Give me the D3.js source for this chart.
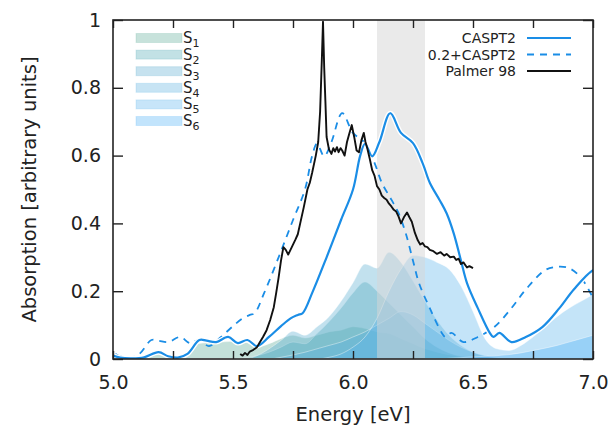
<!DOCTYPE html>
<html>
<head>
<meta charset="utf-8">
<script src="https://cdn.jsdelivr.net/npm/d3@7"></script>
<style>
  html, body { margin: 0; padding: 0; background: #fff; }
  svg { display: block; font-family: "DejaVu Sans", sans-serif; }
</style>
</head>
<body>
<svg id="chart" width="611" height="433"></svg>
<script>
// ---- data ----
// CASPT2 spectrum (energy in eV, absorption in arbitrary units)
const casptEnergy = [5.00,5.03,5.08,5.13,5.19,5.23,5.27,5.31,5.36,5.39,5.43,5.48,5.52,5.56,5.60,5.65,5.70,5.74,5.77,5.79,5.83,5.89,5.95,6.00,6.03,6.05,6.08,6.11,6.155,6.20,6.25,6.29,6.32,6.36,6.39,6.42,6.45,6.475,6.52,6.57,6.585,6.61,6.66,6.72,6.79,6.86,6.92,7.00,7.05,7.10,7.15,7.20];
const casptValue  = [0.010,0.004,0.002,0.005,0.020,0.008,0.004,0.015,0.056,0.054,0.050,0.065,0.047,0.056,0.038,0.065,0.097,0.120,0.130,0.135,0.195,0.300,0.410,0.500,0.600,0.635,0.598,0.640,0.725,0.667,0.637,0.578,0.520,0.470,0.430,0.370,0.290,0.224,0.150,0.077,0.065,0.077,0.050,0.065,0.095,0.150,0.205,0.262,0.272,0.268,0.240,0.180];
// the dashed curve is the same CASPT2 spectrum moved down by this many eV
const shiftEv = 0.2;

// Palmer 1998 experimental spectrum
const palmerEnergy = [5.530,5.540,5.550,5.560,5.570,5.585,5.600,5.610,5.625,5.640,5.655,5.670,5.680,5.690,5.700,5.710,5.720,5.730,5.745,5.760,5.770,5.780,5.795,5.810,5.820,5.830,5.845,5.855,5.863,5.870,5.875,5.880,5.885,5.890,5.900,5.910,5.918,5.925,5.933,5.940,5.948,5.955,5.965,5.975,5.985,5.995,6.005,6.015,6.025,6.035,6.045,6.052,6.060,6.070,6.080,6.090,6.100,6.110,6.120,6.130,6.140,6.150,6.160,6.170,6.180,6.190,6.200,6.212,6.225,6.235,6.245,6.258,6.270,6.280,6.290,6.300,6.310,6.320,6.335,6.350,6.365,6.380,6.390,6.405,6.420,6.430,6.440,6.450,6.460,6.475,6.485,6.500];
const palmerValue  = [0.015,0.010,0.018,0.012,0.022,0.027,0.035,0.047,0.065,0.085,0.115,0.153,0.195,0.240,0.290,0.330,0.322,0.308,0.330,0.352,0.368,0.400,0.448,0.500,0.520,0.550,0.600,0.640,0.730,0.880,0.995,0.860,0.760,0.655,0.618,0.605,0.622,0.612,0.625,0.610,0.622,0.615,0.600,0.640,0.666,0.690,0.655,0.615,0.610,0.645,0.667,0.640,0.620,0.590,0.557,0.540,0.510,0.500,0.482,0.475,0.470,0.458,0.450,0.440,0.435,0.420,0.400,0.418,0.432,0.418,0.405,0.372,0.350,0.338,0.342,0.332,0.330,0.322,0.318,0.310,0.315,0.305,0.310,0.300,0.302,0.292,0.296,0.280,0.285,0.270,0.274,0.268];

// excited-state contributions S1..S6 on a common energy grid
const stateEnergy = [5.00,5.05,5.10,5.15,5.20,5.25,5.30,5.35,5.40,5.45,5.50,5.55,5.60,5.65,5.70,5.75,5.80,5.85,5.90,5.95,6.00,6.05,6.10,6.15,6.20,6.25,6.30,6.35,6.40,6.45,6.50,6.55,6.60,6.65,6.70,6.75,6.80,6.85,6.90,6.95,7.00];
const s1 = [0.008,0.002,0.000,0.006,0.018,0.006,0.012,0.045,0.048,0.050,0.052,0.050,0.035,0.045,0.060,0.070,0.062,0.070,0.080,0.085,0.095,0.090,0.080,0.075,0.060,0.045,0.030,0.020,0.012,0.006,0.003,0,0,0,0,0,0,0,0,0,0];
const s2 = [0,0,0,0,0,0,0,0,0,0,0,0.003,0.010,0.020,0.035,0.050,0.045,0.075,0.110,0.150,0.195,0.227,0.200,0.165,0.130,0.095,0.060,0.035,0.018,0.008,0.003,0,0,0,0,0,0,0,0,0,0];
const s3 = [0,0,0,0,0,0,0,0,0,0,0,0,0.010,0.030,0.055,0.082,0.070,0.095,0.125,0.170,0.225,0.280,0.268,0.315,0.285,0.230,0.170,0.115,0.070,0.040,0.020,0.008,0.002,0,0,0,0,0,0,0,0];
const s4 = [0,0,0,0,0,0,0,0,0,0,0,0,0,0,0.005,0.012,0.020,0.030,0.040,0.050,0.065,0.080,0.100,0.120,0.140,0.130,0.105,0.080,0.055,0.035,0.020,0.010,0.004,0,0,0,0,0,0,0,0];
const s5 = [0,0,0,0,0,0,0,0,0,0,0,0,0,0,0,0,0,0,0.005,0.015,0.035,0.065,0.120,0.200,0.265,0.305,0.300,0.285,0.265,0.215,0.140,0.060,0.030,0.025,0.040,0.065,0.095,0.125,0.150,0.170,0.190];
const s6 = [0,0,0,0,0,0,0,0,0,0,0,0,0,0,0,0,0,0,0,0,0,0,0,0,0,0,0,0,0.002,0.004,0.006,0.008,0.010,0.013,0.018,0.025,0.032,0.040,0.050,0.060,0.070];
const stateNames  = ["1","2","3","4","5","6"];
const stateValues = [s1, s2, s3, s4, s5, s6];
const stateColors = ["#5aa996","#4ca6b2","#57abcf","#5ab0df","#5bb4ec","#4cb0f7"];

// shaded energy window
const windowRange = [6.1, 6.3];

// axis ticks
const xTicks = [5.0,5.25,5.5,5.75,6.0,6.25,6.5,6.75,7.0];
const xLabels = [5.0,5.5,6.0,6.5,7.0];
const yTicks = [0,0.2,0.4,0.6,0.8,1];

const lineSeries = [
  {name: "CASPT2", dash: null},
  {name: "0.2+CASPT2", dash: "7,6"},
  {name: "Palmer 98", dash: null, black: true}
];

// ---- layout ----
const plot = {left: 113, top: 20, right: 593, bottom: 359};
const blue = "#1a8de6";
const svg = d3.select("#chart");

const x = d3.scaleLinear().domain([5, 7]).range([plot.left, plot.right]);
const y = d3.scaleLinear().domain([0, 1]).range([plot.bottom, plot.top]);

svg.append("defs").append("clipPath").attr("id", "plotClip")
  .append("rect")
  .attr("x", plot.left).attr("y", plot.top)
  .attr("width", plot.right - plot.left).attr("height", plot.bottom - plot.top);

const g = svg.append("g").attr("clip-path", "url(#plotClip)");

// state areas (overlapping, translucent)
const area = d3.area()
  .x(d => x(d[0])).y0(y(0)).y1(d => y(d[1]))
  .curve(d3.curveMonotoneX);
stateValues.forEach((vals, i) => {
  const pts = stateEnergy.map((e, k) => [e, vals[k]]);
  g.append("path")
    .datum(pts)
    .attr("d", area)
    .attr("fill", stateColors[i])
    .attr("fill-opacity", 0.36)
    .attr("stroke", "#ffffff")
    .attr("stroke-opacity", 0.5)
    .attr("stroke-width", 0.8);
});

// shaded window
g.append("rect")
  .attr("x", x(windowRange[0])).attr("y", plot.top)
  .attr("width", x(windowRange[1]) - x(windowRange[0]))
  .attr("height", plot.bottom - plot.top)
  .attr("fill", "#d6d6d6").attr("fill-opacity", 0.5);

const smooth = d3.line().x(d => x(d[0])).y(d => y(d[1])).curve(d3.curveCatmullRom.alpha(0.5));
const casptPts = casptEnergy.map((e, k) => [e, casptValue[k]]);
const shiftedPts = casptEnergy.map((e, k) => [e - shiftEv, casptValue[k]]);

// shifted CASPT2 (dashed)
g.append("path").datum(shiftedPts).attr("d", smooth)
  .attr("fill", "none").attr("stroke", blue).attr("stroke-width", 1.8)
  .attr("stroke-dasharray", "7,6");

// CASPT2 with a thin white casing
g.append("path").datum(casptPts).attr("d", smooth)
  .attr("fill", "none").attr("stroke", "#ffffff").attr("stroke-width", 5);
g.append("path").datum(casptPts).attr("d", smooth)
  .attr("fill", "none").attr("stroke", blue).attr("stroke-width", 2.2);

// experimental spectrum
const jag = d3.line().x(d => x(d[0])).y(d => y(d[1]));
g.append("path").datum(palmerEnergy.map((e, k) => [e, palmerValue[k]])).attr("d", jag)
  .attr("fill", "none").attr("stroke", "#111").attr("stroke-width", 1.9)
  .attr("stroke-linejoin", "round");

// ---- axes ----
const fmtX = d => xLabels.some(v => Math.abs(v - d) < 1e-9) ? d3.format(".1f")(d) : "";
const fmtY = d => (d === 0 || d === 1) ? String(d) : d3.format(".1f")(d);

function styleAxis(sel) {
  sel.select(".domain").remove();
  sel.selectAll(".tick line").attr("stroke", "#222").attr("stroke-width", 1.4);
  sel.selectAll(".tick text").attr("fill", "#222").style("font-size", "19px")
    .style("font-family", "'DejaVu Sans', sans-serif");
}

svg.append("g").attr("transform", `translate(0,${plot.bottom})`)
  .call(d3.axisBottom(x).tickValues(xTicks).tickSize(-8).tickPadding(17).tickFormat(fmtX))
  .call(styleAxis);
svg.append("g").attr("transform", `translate(0,${plot.top})`)
  .call(d3.axisTop(x).tickValues(xTicks).tickSize(-8).tickFormat(""))
  .call(styleAxis);
svg.append("g").attr("transform", `translate(${plot.left},0)`)
  .call(d3.axisLeft(y).tickValues(yTicks).tickSize(-10).tickPadding(12).tickFormat(fmtY))
  .call(styleAxis);
svg.append("g").attr("transform", `translate(${plot.right},0)`)
  .call(d3.axisRight(y).tickValues(yTicks).tickSize(-10).tickFormat(""))
  .call(styleAxis);

// frame
svg.append("rect")
  .attr("x", plot.left).attr("y", plot.top)
  .attr("width", plot.right - plot.left).attr("height", plot.bottom - plot.top)
  .attr("fill", "none").attr("stroke", "#222").attr("stroke-width", 1.6);

// axis titles
svg.append("text")
  .attr("x", (plot.left + plot.right) / 2).attr("y", 421)
  .attr("text-anchor", "middle").attr("fill", "#222")
  .style("font-size", "19.5px").text("Energy [eV]");
svg.append("text")
  .attr("transform", `translate(36,${(plot.top + plot.bottom) / 2}) rotate(-90)`)
  .attr("text-anchor", "middle").attr("fill", "#222")
  .style("font-size", "19.5px").text("Absorption [arbitrary units]");

// ---- legends ----
const stateLegend = svg.append("g");
stateNames.forEach((n, i) => {
  const cy = 38 + i * 16.6;
  stateLegend.append("rect")
    .attr("x", 136).attr("y", cy - 4.5).attr("width", 46).attr("height", 9)
    .attr("fill", stateColors[i]).attr("fill-opacity", 0.34)
    .attr("stroke", stateColors[i]).attr("stroke-opacity", 0.2);
  const t = stateLegend.append("text")
    .attr("x", 183).attr("y", cy + 5).attr("fill", "#222").style("font-size", "15px");
  t.append("tspan").text("S");
  t.append("tspan").attr("dy", 4).style("font-size", "11px").text(n);
});

const lineLegend = svg.append("g");
lineSeries.forEach((s, i) => {
  const cy = 38 + i * 16.5;
  lineLegend.append("text")
    .attr("x", 516).attr("y", cy + 5).attr("text-anchor", "end")
    .attr("fill", "#222").style("font-size", "14px").text(s.name);
  lineLegend.append("line")
    .attr("x1", 527).attr("x2", 571).attr("y1", cy).attr("y2", cy)
    .attr("stroke", s.black ? "#111" : blue)
    .attr("stroke-width", s.black ? 1.9 : (s.dash ? 1.8 : 2.2))
    .attr("stroke-dasharray", s.dash);
});
</script>
</body>
</html>
